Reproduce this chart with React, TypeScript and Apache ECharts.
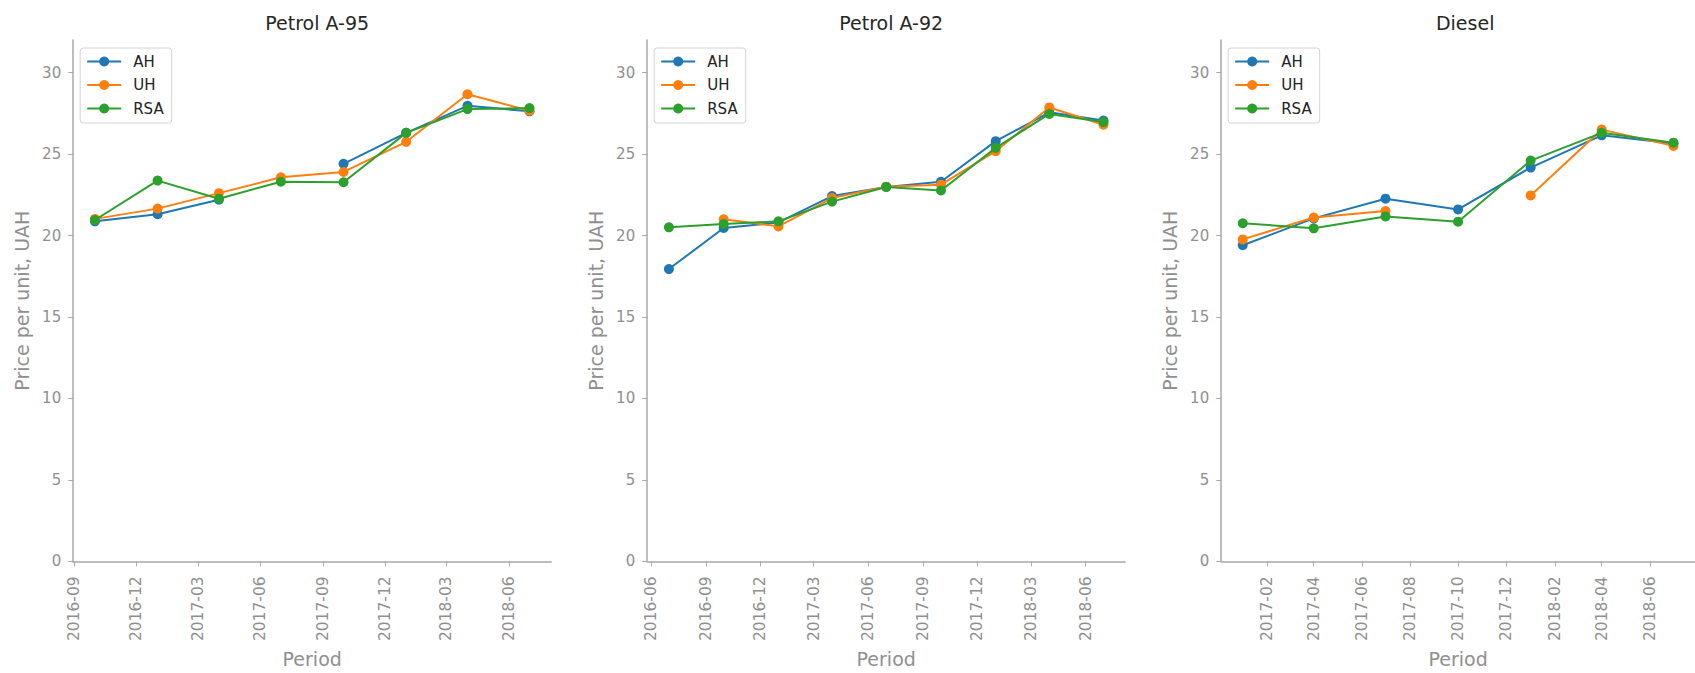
import React, { useEffect, useRef } from "react";
import * as echarts from "echarts";

// ---------- data ----------
const seriesNames = ["AH", "UH", "RSA"];
const seriesColors = ["#1f77b4", "#ff7f0e", "#2ca02c"];
const yTicks = [0, 5, 10, 15, 20, 25, 30];

const a95Dates = ["2016-10-01", "2017-01-01", "2017-04-01", "2017-07-01", "2017-10-01", "2018-01-01", "2018-04-01", "2018-07-01"];
const a95AH = [20.87, 21.31, 22.2, null, 24.4, 26.3, 27.96, 27.62];
const a95UH = [21.02, 21.65, 22.6, 23.57, 23.9, 25.75, 28.67, 27.66];
const a95RSA = [20.95, 23.37, 22.26, 23.3, 23.27, 26.3, 27.76, 27.82];
const a95Ticks = ["2016-09", "2016-12", "2017-03", "2017-06", "2017-09", "2017-12", "2018-03", "2018-06"];

const a92Dates = ["2016-07-01", "2016-10-01", "2017-01-01", "2017-04-01", "2017-07-01", "2017-10-01", "2018-01-01", "2018-04-01", "2018-07-01"];
const a92AH = [17.94, 20.46, 20.8, 22.42, 22.98, 23.3, 25.79, 27.56, 27.06];
const a92UH = [null, 21.0, 20.56, 22.3, 23.0, 23.12, 25.18, 27.86, 26.8];
const a92RSA = [20.5, 20.7, 20.87, 22.08, 22.98, 22.76, 25.38, 27.46, 26.96];
const a92Ticks = ["2016-06", "2016-09", "2016-12", "2017-03", "2017-06", "2017-09", "2017-12", "2018-03", "2018-06"];

const dieselDates = ["2017-01-01", "2017-04-01", "2017-07-01", "2017-10-01", "2018-01-01", "2018-04-01", "2018-07-01"];
const dieselAH = [19.4, 21.05, 22.26, 21.6, 24.17, 26.15, 25.65];
const dieselUH = [19.76, 21.1, 21.5, null, 22.46, 26.5, 25.5];
const dieselRSA = [20.75, 20.44, 21.17, 20.85, 24.6, 26.3, 25.7];
const dieselTicks = ["2017-02", "2017-04", "2017-06", "2017-08", "2017-10", "2017-12", "2018-02", "2018-04", "2018-06"];

const panelTitles = ["Petrol A-95", "Petrol A-92", "Diesel"];

// ---------- helpers ----------
const toTs = (s: string) => {
  const p = s.split("-").map(Number);
  return new Date(p[0], p[1] - 1, p[2] || 1).getTime();
};
const fmtMonth = (v: number) => {
  const d = new Date(v);
  const m = d.getMonth() + 1;
  return d.getFullYear() + "-" + (m < 10 ? "0" + m : "" + m);
};

const AXIS_GRAY = "#a8a8a8";
const TEXT_GRAY = "#8f8f8f";
const FONT = "DejaVu Sans";

export default function App() {
  const ref = useRef<HTMLDivElement>(null);

  useEffect(() => {
    if (!ref.current) return;
    const chart = echarts.init(ref.current, null, { renderer: "svg" });

    const panels = [
      { dates: a95Dates, vals: [a95AH, a95UH, a95RSA], ticks: a95Ticks, left: 73.2 },
      { dates: a92Dates, vals: [a92AH, a92UH, a92RSA], ticks: a92Ticks, left: 647.2 },
      { dates: dieselDates, vals: [dieselAH, dieselUH, dieselRSA], ticks: dieselTicks, left: 1221.2 },
    ];
    const plotW = 478;
    const top = 40;
    const bottomY = 569;

    const grid: any[] = [];
    const xAxis: any[] = [];
    const yAxis: any[] = [];
    const series: any[] = [];
    const legend: any[] = [];
    const title: any[] = [];

    panels.forEach((p, i) => {
      const first = toTs(p.dates[0]);
      const last = toTs(p.dates[p.dates.length - 1]);
      const span = last - first;
      // matplotlib-like 5% margins
      const min = first - span * 0.05;
      const max = last + span * 0.05;
      const tickVals = p.ticks.map(toTs);

      grid.push({ left: p.left, top, width: plotW, height: bottomY - top });

      xAxis.push({
        type: "value",
        gridIndex: i,
        min,
        max,
        scale: true,
        name: "Period",
        nameLocation: "middle",
        nameGap: 84,
        nameTextStyle: { color: TEXT_GRAY, fontSize: 19, fontFamily: FONT },
        axisLine: { show: true, onZero: false, lineStyle: { color: AXIS_GRAY, width: 1.5 } },
        axisTick: { show: true, length: 5, lineStyle: { color: AXIS_GRAY, width: 1 }, customValues: tickVals },
        axisLabel: {
          rotate: 90,
          margin: 15,
          color: TEXT_GRAY,
          fontSize: 15.5,
          fontFamily: FONT,
          customValues: tickVals,
          formatter: (v: number) => fmtMonth(v),
        },
        splitLine: { show: false },
      });

      yAxis.push({
        type: "value",
        gridIndex: i,
        min: 0,
        max: 32,
        name: "Price per unit, UAH",
        nameLocation: "middle",
        nameGap: 42,
        nameTextStyle: { color: TEXT_GRAY, fontSize: 19, fontFamily: FONT },
        axisLine: { show: true, onZero: false, lineStyle: { color: AXIS_GRAY, width: 1.5 } },
        axisTick: { show: true, length: 5, lineStyle: { color: AXIS_GRAY, width: 1 }, customValues: yTicks },
        axisLabel: { margin: 12, color: TEXT_GRAY, fontSize: 15, fontFamily: FONT, customValues: yTicks },
        splitLine: { show: false },
      });

      title.push({
        text: panelTitles[i],
        left: p.left + plotW / 2,
        textAlign: "center",
        top: 8,
        textStyle: { color: "#262626", fontSize: 19, fontWeight: "normal", fontFamily: FONT },
      });

      legend.push({
        orient: "vertical",
        left: p.left + 7,
        top: 48,
        padding: [6, 8, 7, 6],
        itemWidth: 34,
        itemHeight: 12.5,
        itemGap: 8.5,
        borderColor: "#d4d4d4",
        borderWidth: 1,
        borderRadius: 3,
        backgroundColor: "#ffffff",
        textStyle: { color: "#222222", fontSize: 15, fontFamily: FONT, padding: [0, 0, 0, 7] },
        data: seriesNames,
      });

      seriesNames.forEach((name, k) => {
        series.push({
          type: "line",
          name,
          xAxisIndex: i,
          yAxisIndex: i,
          data: p.dates.map((d, j) => [toTs(d), p.vals[k][j]]),
          connectNulls: false,
          symbol: "circle",
          symbolSize: 10,
          showSymbol: true,
          color: seriesColors[k],
          lineStyle: { width: 2, color: seriesColors[k] },
          itemStyle: { color: seriesColors[k] },
          z: 2 + k,
        });
      });
    });

    chart.setOption({
      animation: false,
      backgroundColor: "#ffffff",
      textStyle: { fontFamily: FONT },
      title,
      legend,
      grid,
      xAxis,
      yAxis,
      series,
    });

    return () => chart.dispose();
  }, []);

  return (
    <div
      ref={ref}
      style={{ position: "absolute", left: 0, top: 0, width: 1695, height: 673 }}
    />
  );
}
